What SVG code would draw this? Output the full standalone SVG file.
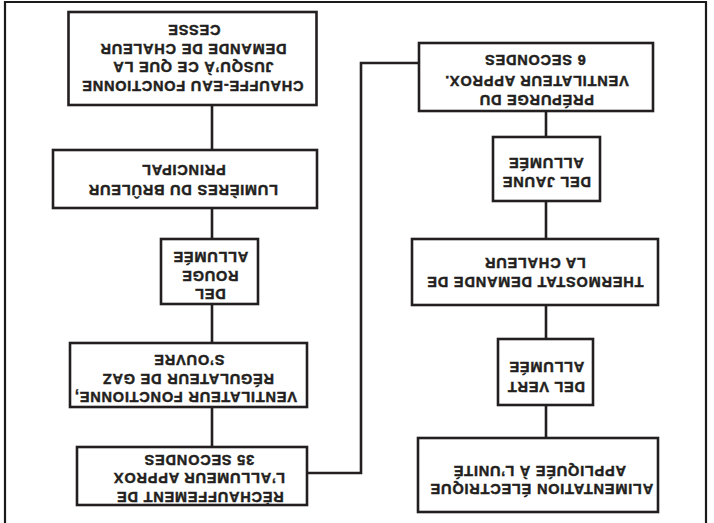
<svg xmlns="http://www.w3.org/2000/svg" width="714" height="523" viewBox="0 0 714 523">
<style>
.bg{fill:#fff}
.frame{fill:none;stroke:#1a1a1a;stroke-width:2.2}
.box{fill:#fff;stroke:#231f20;stroke-width:2.6}
.con{fill:none;stroke:#231f20;stroke-width:2.6}
.t{font-family:"Liberation Sans",Arial,sans-serif;font-weight:bold;font-size:14.5px;letter-spacing:0.8px;text-anchor:middle;fill:#231f20;stroke:#231f20;stroke-width:0.45}
</style>
<rect class="bg" x="0" y="0" width="714" height="523"/>
<path class="frame" d="M5 524 V2 H706 V524"/>
<g id="connectors">
<path class="con" d="M212 105 V150 M212 208 V239 M212 304 V343 M212 407 V447"/>
<path class="con" d="M546 111 V137 M546 201 V239 M546 305 V339 M546 405 V438"/>
<path class="con" d="M307 473 H361 V63 H419"/>
</g>
<g id="n_chauffe_eau">
<rect class="box" x="68.5" y="12" width="248" height="93"/>
<text class="t" x="194" y="35.2" transform="rotate(180 194 30)">CESSE</text>
<text class="t" x="193" y="54.2" transform="rotate(180 193 49)">DEMANDE DE CHALEUR</text>
<text class="t" x="193" y="72.7" transform="rotate(180 193 67.5)">JUSQU’À CE QUE LA</text>
<text class="t" x="192.5" y="91.2" transform="rotate(180 192.5 86)">CHAUFFE-EAU FONCTIONNE</text>
</g>
<g id="n_lumieres">
<rect class="box" x="53" y="150" width="264" height="58"/>
<text class="t" x="183.5" y="175.2" transform="rotate(180 183.5 170)">PRINCIPAL</text>
<text class="t" x="183" y="195.2" transform="rotate(180 183 190)">LUMIÈRES DU BRÛLEUR</text>
</g>
<g id="n_del_rouge">
<rect class="box" x="161" y="239" width="97" height="65"/>
<text class="t" x="210.5" y="262.2" transform="rotate(180 210.5 257)">ALLUMÉE</text>
<text class="t" x="210" y="281.2" transform="rotate(180 210 276)">ROUGE</text>
<text class="t" x="210" y="299.7" transform="rotate(180 210 294.5)">DEL</text>
</g>
<g id="n_ventilateur">
<rect class="box" x="70" y="343" width="237" height="64"/>
<text class="t" x="189" y="365.2" transform="rotate(180 189 360)">S’OUVRE</text>
<text class="t" x="188" y="384.2" transform="rotate(180 188 379)">RÉGULATEUR DE GAZ</text>
<text class="t" x="185.5" y="402.2" transform="rotate(180 185.5 397)">VENTILATEUR FONCTIONNE,</text>
</g>
<g id="n_rechauffement">
<rect class="box" x="77" y="447" width="230" height="58"/>
<text class="t" x="199" y="465.2" transform="rotate(180 199 460)">35 SECONDES</text>
<text class="t" x="199" y="483.2" transform="rotate(180 199 478)">L’ALLUMEUR APPROX</text>
<text class="t" x="200" y="502.2" transform="rotate(180 200 497)">RÉCHAUFFEMENT DE</text>
</g>
<g id="n_prepurge">
<rect class="box" x="419" y="43" width="234" height="68"/>
<text class="t" x="535" y="65.2" transform="rotate(180 535 60)">6 SECONDES</text>
<text class="t" x="536.5" y="86.2" transform="rotate(180 536.5 81)">VENTILATEUR APPROX.</text>
<text class="t" x="536.5" y="105.2" transform="rotate(180 536.5 100)">PRÉPURGE DU</text>
</g>
<g id="n_del_jaune">
<rect class="box" x="493" y="137" width="107" height="64"/>
<text class="t" x="546" y="168.2" transform="rotate(180 546 163)">ALLUMÉE</text>
<text class="t" x="546.5" y="187.2" transform="rotate(180 546.5 182)">DEL JAUNE</text>
</g>
<g id="n_thermostat">
<rect class="box" x="412" y="239" width="246" height="66"/>
<text class="t" x="535" y="268.2" transform="rotate(180 535 263)">LA CHALEUR</text>
<text class="t" x="535" y="287.7" transform="rotate(180 535 282.5)">THERMOSTAT DEMANDE DE</text>
</g>
<g id="n_del_vert">
<rect class="box" x="498" y="339" width="95" height="66"/>
<text class="t" x="546.5" y="372.2" transform="rotate(180 546.5 367)">ALLUMÉE</text>
<text class="t" x="546" y="392.2" transform="rotate(180 546 387)">DEL VERT</text>
</g>
<g id="n_alimentation">
<rect class="box" x="418" y="438" width="240" height="74"/>
<text class="t" x="539.5" y="476.2" transform="rotate(180 539.5 471)">APPLIQUÉE À L’UNITÉ</text>
<text class="t" x="541.5" y="494.2" transform="rotate(180 541.5 489)">ALIMENTATION ÉLECTRIQUE</text>
</g>
</svg>
